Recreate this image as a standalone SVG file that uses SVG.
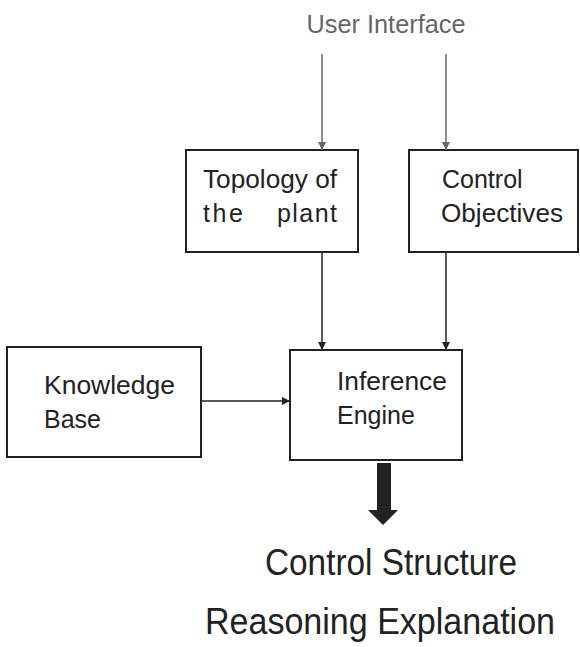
<svg xmlns="http://www.w3.org/2000/svg" width="580" height="647" viewBox="0 0 580 647">
<style>
.box{fill:#fff;stroke:#222;stroke-width:2}
.t{font-family:"Liberation Sans",Arial,sans-serif;font-size:25px;fill:#222}
.big{font-family:"Liberation Sans",Arial,sans-serif;font-size:36px;fill:#222}
.ui{font-family:"Liberation Sans",Arial,sans-serif;font-size:25px;fill:#666}
.cg{stroke:#666;stroke-width:1.5;fill:none}
.cd{stroke:#222;stroke-width:1.5;fill:none}
</style>
<defs>
<marker id="ag" viewBox="0 0 10 10" refX="10" refY="5" markerWidth="8" markerHeight="8" markerUnits="userSpaceOnUse" orient="auto"><path d="M0,0L10,5L0,10z" fill="#666"/></marker>
<marker id="ad" viewBox="0 0 10 10" refX="10" refY="5" markerWidth="8" markerHeight="8" markerUnits="userSpaceOnUse" orient="auto"><path d="M0,0L10,5L0,10z" fill="#222"/></marker>
</defs>
<rect width="580" height="647" fill="#fff"/>
<g id="user-interface"><text class="ui" x="386" y="33" text-anchor="middle" textLength="159" lengthAdjust="spacingAndGlyphs">User Interface</text></g>
<g id="topology"><rect class="box" x="186" y="150" width="172" height="102"/>
<text class="t" x="203" y="188" textLength="134" lengthAdjust="spacingAndGlyphs">Topology of</text>
<text class="t" x="203" y="222"><tspan textLength="40" lengthAdjust="spacing">the</tspan><tspan x="277" textLength="60" lengthAdjust="spacing">plant</tspan></text></g>
<g id="control-objectives"><rect class="box" x="409" y="150" width="169" height="102"/>
<text class="t" x="442" y="188">Control</text>
<text class="t" x="441" y="222" textLength="122" lengthAdjust="spacingAndGlyphs">Objectives</text></g>
<g id="knowledge-base"><rect class="box" x="7" y="347" width="194" height="110"/>
<text class="t" x="44" y="394" textLength="131" lengthAdjust="spacingAndGlyphs">Knowledge</text>
<text class="t" x="44" y="428">Base</text></g>
<g id="inference-engine"><rect class="box" x="290" y="350" width="172" height="110"/>
<text class="t" x="337" y="390" textLength="110" lengthAdjust="spacingAndGlyphs">Inference</text>
<text class="t" x="337" y="424">Engine</text></g>
<g id="outputs">
<text class="big" x="265" y="575" textLength="252" lengthAdjust="spacingAndGlyphs">Control Structure</text>
<text class="big" x="205" y="634" textLength="350" lengthAdjust="spacingAndGlyphs">Reasoning Explanation</text></g>
<g id="connectors">
<line class="cg" x1="322" y1="54" x2="322" y2="150" marker-end="url(#ag)"/>
<line class="cg" x1="446" y1="54" x2="446" y2="150" marker-end="url(#ag)"/>
<line class="cd" x1="322" y1="252" x2="322" y2="350" marker-end="url(#ad)"/>
<line class="cd" x1="446" y1="252" x2="446" y2="350" marker-end="url(#ad)"/>
<line class="cd" x1="201" y1="401" x2="290" y2="401" marker-end="url(#ad)"/>
<path d="M377,463H391V510H398L383,525L368,510H377Z" fill="#222"/>
</g>
</svg>
